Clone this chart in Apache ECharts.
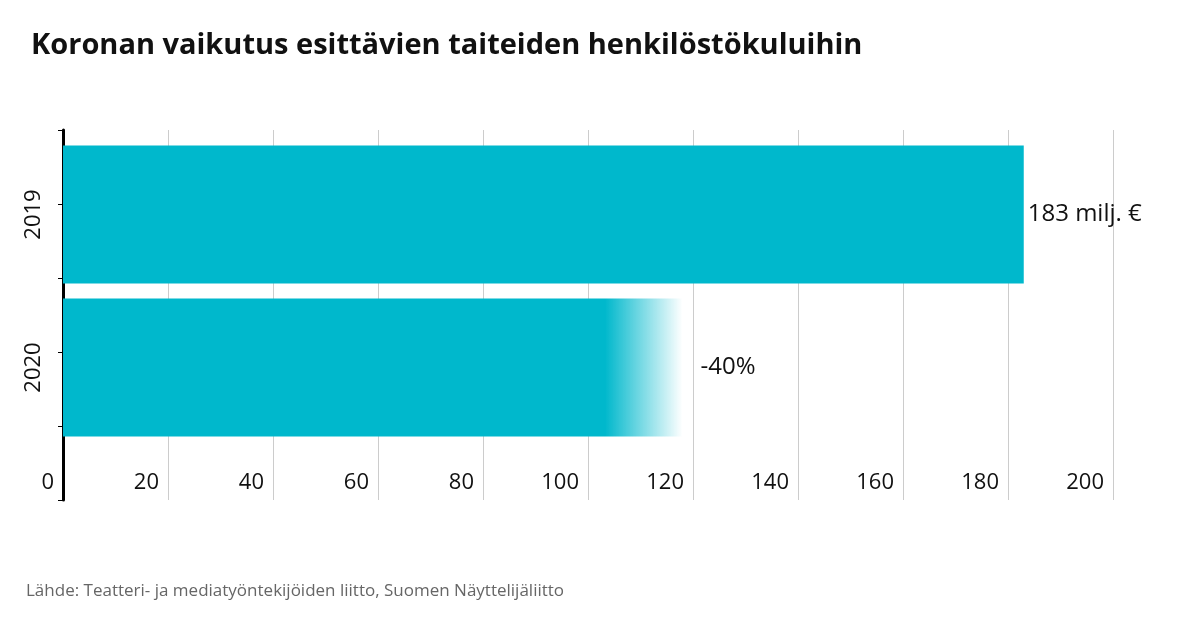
<!DOCTYPE html><html><head><meta charset="utf-8"><script src="https://cdn.jsdelivr.net/npm/echarts@6/dist/echarts.min.js"></script>
<style>body{margin:0}#c{width:1199px;height:619px}</style></head><body><div id="c"></div><script>
const categories=['2020','2019'];
const values=[118,183];
const labels=['-40%','183 milj. €'];
const ticks=[0,20,40,60,80,100,120,140,160,180,200];
const F='"Open Sans","Noto Sans",sans-serif';
const c=echarts.init(document.getElementById('c'));
c.setOption({
 animation:false,
 title:{text:'Koronan vaikutus esittävien taiteiden henkilöstökuluihin',left:26,top:26,textStyle:{fontFamily:F,fontSize:29,fontWeight:'bold',color:'#111'}},
 graphic:[{type:'text',left:26,top:583,style:{text:'Lähde: Teatteri- ja mediatyöntekijöiden liitto, Suomen Näyttelijäliitto',font:'17px '+F,fill:'#666'}}],
 grid:[{left:63,right:86,top:138,height:306},{left:63,right:86,top:130,bottom:119}],
 xAxis:[{gridIndex:0,type:'value',min:0,max:200,show:false},
  {gridIndex:1,type:'value',min:0,max:200,interval:20,axisLine:{show:false},axisTick:{show:false},
   splitLine:{show:true,lineStyle:{color:'#cccccc',width:1}},
   axisLabel:{inside:true,margin:6,align:'right',padding:[0,9,0,0],fontFamily:F,fontSize:22,color:'#111',formatter:v=>String(v)}}],
 yAxis:[{gridIndex:0,type:'category',data:categories,axisLine:{show:false},axisTick:{show:false},
   axisLabel:{rotate:90,margin:18,fontFamily:F,fontSize:22,color:'#111'}},
  {gridIndex:1,type:'value',min:0,max:1,axisLabel:{show:false},splitLine:{show:false},axisLine:{show:true,lineStyle:{color:'#000',width:3}}}],
 series:[{type:'bar',xAxisIndex:0,yAxisIndex:0,barWidth:138,
  data:values.map((v,i)=>({value:v,itemStyle:{color:i===0?new echarts.graphic.LinearGradient(0,0,1,0,[{offset:0,color:'#00b8cc'},{offset:0.455/0.52,color:'#00b8cc'},{offset:1,color:'rgba(0,184,204,0)'}]):'#00b8cc'},
   label:{show:true,position:'right',distance:i===0?18:4,formatter:labels[i],fontFamily:F,fontSize:24,color:'#111'}}))}]
});
</script></body></html>
